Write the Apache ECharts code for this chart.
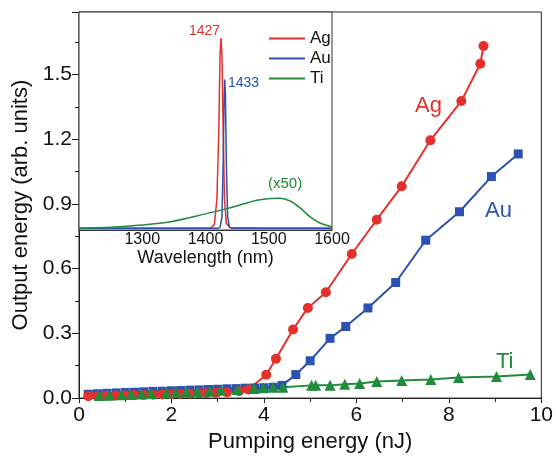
<!DOCTYPE html>
<html>
<head>
<meta charset="utf-8">
<script src="https://cdn.jsdelivr.net/npm/echarts@6/dist/echarts.min.js"></script>
<style>
  html, body { margin: 0; padding: 0; background: #fff; }
  #chart { width: 556px; height: 458px; }
</style>
</head>
<body>
<div id="chart"></div>
<script>
// main plot: pumping energy (nJ) vs output energy
var agPts = [[0.2,0.009],[0.4,0.010],[0.6,0.011],[0.8,0.012],[1.0,0.013],[1.2,0.014],[1.4,0.015],[1.6,0.016],[1.8,0.017],
  [2.0,0.018],[2.2,0.019],[2.4,0.020],[2.6,0.022],[2.75,0.023],[2.97,0.025],[3.2,0.027],[3.46,0.032],[3.66,0.040],
  [4.05,0.108],[4.26,0.182],[4.63,0.318],[4.95,0.418],[5.34,0.491],[5.90,0.668],[6.44,0.827],[6.98,0.982],
  [7.60,1.195],[8.27,1.377],[8.68,1.550],[8.75,1.632]];
var auPts = [[0.2,0.018],[0.4,0.020],[0.6,0.022],[0.8,0.024],[1.0,0.026],[1.2,0.027],[1.4,0.029],[1.6,0.031],[1.8,0.032],
  [2.0,0.034],[2.2,0.035],[2.4,0.037],[2.6,0.038],[2.8,0.040],[3.0,0.041],[3.2,0.043],[3.4,0.044],[3.6,0.046],
  [3.8,0.047],[4.0,0.048],[4.2,0.050],[4.39,0.059],[4.69,0.109],[5.0,0.173],[5.43,0.277],[5.77,0.332],[6.25,0.418],
  [6.85,0.536],[7.50,0.732],[8.23,0.864],[8.92,1.027],[9.50,1.132]];
var tiPts = [[0.44,0.012],[0.66,0.013],[0.92,0.015],[1.13,0.017],[1.35,0.019],[1.56,0.021],[1.89,0.024],[2.10,0.026],
  [2.32,0.028],[2.56,0.030],[2.82,0.032],[3.07,0.036],[3.42,0.040],[3.79,0.045],[3.98,0.048],[4.20,0.050],[4.41,0.050],
  [5.03,0.059],[5.12,0.059],[5.43,0.059],[5.75,0.064],[6.07,0.068],[6.44,0.077],[6.98,0.082],[7.61,0.086],
  [8.21,0.095],[9.03,0.100],[9.76,0.109]];

// inset: spectra, wavelength (nm) vs intensity
var agSpec = [[1200,0.008],[1300,0.008],[1400,0.008],[1409,0.010],[1414,0.025],[1418,0.14],[1421,0.45],[1423,0.80],
  [1424.5,0.88],[1426,0.80],[1428,0.45],[1430,0.14],[1433,0.03],[1439,0.010],[1500,0.008],[1600,0.008]];
var auSpec = [[1200,0.008],[1300,0.008],[1419,0.008],[1423,0.012],[1426,0.06],[1428,0.32],[1429.5,0.62],[1430.5,0.69],
  [1431.5,0.62],[1433,0.30],[1435,0.06],[1438,0.012],[1444,0.008],[1600,0.008]];
var tiSpec = [[1200,0.008],[1250,0.013],[1300,0.023],[1345,0.038],[1400,0.074],[1434,0.098],[1460,0.119],[1481,0.136],
  [1502,0.145],[1518,0.146],[1534,0.133],[1550,0.100],[1565,0.061],[1581,0.032],[1600,0.015]];

var RED = '#e3302b', BLUE = '#2b52b0', GREEN = '#1f8b3b';
var FONT = 'Liberation Sans';

var chart = echarts.init(document.getElementById('chart'), null, { renderer: 'canvas' });

var option = {
  backgroundColor: '#fff',
  animation: false,
  textStyle: { fontFamily: FONT },
  grid: [
    { left: 79, right: 13, top: 12, bottom: 52, show: true, borderColor: '#222', borderWidth: 1 },
    { left: 79, right: 224, top: 12, bottom: 228, show: true, borderColor: '#333', borderWidth: 1, backgroundColor: '#fff', z: 5 }
  ],
  legend: {
    data: ['Ag', 'Au', 'Ti'],
    orient: 'vertical',
    left: 264, top: 25,
    itemWidth: 36, itemHeight: 2, itemGap: 3,
    icon: 'rect',
    textStyle: { fontFamily: FONT, fontSize: 17, color: '#111' },
    z: 10
  },
  xAxis: [
    {
      gridIndex: 0, type: 'value', min: 0, max: 10, interval: 2,
      name: 'Pumping energy (nJ)', nameLocation: 'middle', nameGap: 26,
      nameTextStyle: { fontFamily: FONT, fontSize: 22, color: '#111' },
      axisLine: { show: true, lineStyle: { color: '#222', width: 1 } },
      axisTick: { show: true, inside: false, length: 5, lineStyle: { color: '#222' } },
      minorTick: { show: true, splitNumber: 2, length: 4, lineStyle: { color: '#222' } },
      splitLine: { show: false },
      axisLabel: { fontFamily: FONT, fontSize: 21, color: '#111', margin: 7 }
    },
    {
      gridIndex: 1, type: 'value', min: 1200, max: 1600, interval: 100,
      name: 'Wavelength (nm)', nameLocation: 'middle', nameGap: 15,
      nameTextStyle: { fontFamily: FONT, fontSize: 18, color: '#111' },
      axisLine: { show: true, lineStyle: { color: '#333', width: 1 } },
      axisTick: { show: false },
      splitLine: { show: false },
      axisLabel: {
        fontFamily: FONT, fontSize: 16, color: '#111', margin: 2, showMinLabel: false,
        formatter: function (v) { return String(v); }
      }
    }
  ],
  yAxis: [
    {
      gridIndex: 0, type: 'value', min: 0, max: 1.79, interval: 0.3,
      name: 'Output energy (arb. units)', nameLocation: 'middle', nameGap: 47,
      nameTextStyle: { fontFamily: FONT, fontSize: 22, color: '#111' },
      axisLine: { show: true, lineStyle: { color: '#222', width: 1 } },
      axisTick: { show: true, inside: false, length: 7, lineStyle: { color: '#222' } },
      minorTick: { show: true, splitNumber: 2, length: 4, lineStyle: { color: '#222' } },
      splitLine: { show: false },
      axisLabel: {
        fontFamily: FONT, fontSize: 21, color: '#111', margin: 7, showMaxLabel: false,
        formatter: function (v) { return v.toFixed(1); }
      }
    },
    {
      gridIndex: 1, type: 'value', min: 0, max: 1,
      show: false
    }
  ],
  series: [
    { name: 'Au main', type: 'line', xAxisIndex: 0, yAxisIndex: 0, data: auPts,
      symbol: 'rect', symbolSize: 9, lineStyle: { color: BLUE, width: 2 }, itemStyle: { color: BLUE } },
    { name: 'Ag main', type: 'line', xAxisIndex: 0, yAxisIndex: 0, data: agPts,
      symbol: 'circle', symbolSize: 10, lineStyle: { color: RED, width: 2 }, itemStyle: { color: RED } },
    { name: 'Ti main', type: 'line', xAxisIndex: 0, yAxisIndex: 0, data: tiPts,
      symbol: 'triangle', symbolSize: 11, lineStyle: { color: GREEN, width: 2 }, itemStyle: { color: GREEN } },
    { name: 'Ag', type: 'line', xAxisIndex: 1, yAxisIndex: 1, data: agSpec, z: 6,
      symbol: 'none', lineStyle: { color: RED, width: 1.5 }, itemStyle: { color: RED } },
    { name: 'Au', type: 'line', xAxisIndex: 1, yAxisIndex: 1, data: auSpec, z: 6,
      symbol: 'none', lineStyle: { color: BLUE, width: 1.5 }, itemStyle: { color: BLUE } },
    { name: 'Ti', type: 'line', xAxisIndex: 1, yAxisIndex: 1, data: tiSpec, z: 6, smooth: 0.3,
      symbol: 'none', lineStyle: { color: GREEN, width: 1.5 }, itemStyle: { color: GREEN } }
  ],
  graphic: [
    { type: 'text', left: 415, top: 95, z: 20, style: { text: 'Ag', fill: RED, font: '22px "Liberation Sans"' } },
    { type: 'text', left: 485, top: 200, z: 20, style: { text: 'Au', fill: BLUE, font: '22px "Liberation Sans"' } },
    { type: 'text', left: 496, top: 351, z: 20, style: { text: 'Ti', fill: GREEN, font: '22px "Liberation Sans"' } },
    { type: 'text', left: 189, top: 24, z: 20, style: { text: '1427', fill: RED, font: '14px "Liberation Sans"' } },
    { type: 'text', left: 228, top: 76, z: 20, style: { text: '1433', fill: BLUE, font: '14px "Liberation Sans"' } },
    { type: 'text', left: 268, top: 176, z: 20, style: { text: '(x50)', fill: GREEN, font: '15px "Liberation Sans"' } }
  ]
};

chart.setOption(option);
</script>
</body>
</html>
